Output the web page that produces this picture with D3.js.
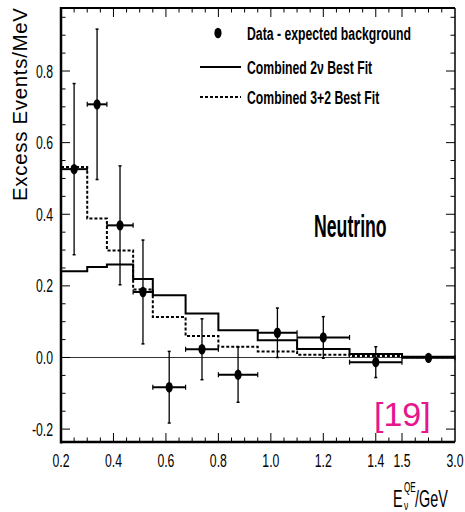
<!DOCTYPE html>
<html>
<head>
<meta charset="utf-8">
<script src="https://cdn.jsdelivr.net/npm/d3@7"></script>
<style>
  body { margin: 0; background: white; }
  text { font-family: "Liberation Sans", Arial, sans-serif; }
</style>
</head>
<body>
<script>
// bin edges in GeV (MiniBooNE binning)
const binEdges = [0.2, 0.3, 0.375, 0.475, 0.55, 0.675, 0.8, 0.95, 1.1, 1.3, 1.5, 3.0];
// data - expected background, and its error
const excess = [0.526, 0.707, 0.369, 0.183, -0.083, 0.023, -0.048, 0.069, 0.056, -0.013, -0.001];
const excessErr = [0.239, 0.21, 0.166, 0.145, 0.10, 0.085, 0.077, 0.069, 0.058, 0.043, 0.005];
// best-fit predictions
const fit2nu = [0.241, 0.253, 0.260, 0.219, 0.174, 0.123, 0.076, 0.048, 0.024, 0.010, 0.002];
const fit3p2 = [0.532, 0.388, 0.299, 0.190, 0.113, 0.060, 0.030, 0.017, 0.008, 0.004, 0.001];
// axis ticks
const xTickLabels = [0.2, 0.4, 0.6, 0.8, 1.0, 1.2, 1.4, 1.5, 3.0];
const xMinorTicks = d3.range(0.2, 1.501, 0.05).concat([1.875, 2.25, 2.625]);
const yTickLabels = [-0.2, 0.0, 0.2, 0.4, 0.6, 0.8];
const yMinorTicks = d3.range(-0.2, 0.951, 0.05);

const width = 465, height = 512;
const mLeft = 61, mRight = 455, mTop = 8, mBottom = 442;

const svg = d3.select("body").append("svg")
    .attr("width", width)
    .attr("height", height);

// x axis is linear up to 1.5 GeV and compressed above
const x = d3.scaleLinear().domain([0.2, 1.5, 3.0]).range([mLeft, 402, mRight]);
const y = d3.scaleLinear().domain([-0.236, 0.976]).range([mBottom, mTop]);

// squeeze text horizontally like the original (narrow font)
function squish(sel, k) {
  sel.each(function() {
    const w = this.getComputedTextLength();
    d3.select(this).attr("textLength", w * k).attr("lengthAdjust", "spacingAndGlyphs");
  });
}

// zero line
svg.append("line")
    .attr("x1", mLeft).attr("x2", mRight)
    .attr("y1", y(0)).attr("y2", y(0))
    .attr("stroke", "#333").attr("stroke-width", 1);

// histograms
const stepData = vals => vals.map((v, i) => [binEdges[i], v]).concat([[3.0, vals[vals.length - 1]]]);
const step = d3.line().x(d => x(d[0])).y(d => y(d[1])).curve(d3.curveStepAfter);

svg.append("path")
    .attr("d", step(stepData(fit2nu)))
    .attr("fill", "none").attr("stroke", "#000").attr("stroke-width", 2);

svg.append("path")
    .attr("d", step(stepData(fit3p2)))
    .attr("fill", "none").attr("stroke", "#000").attr("stroke-width", 2)
    .attr("stroke-dasharray", "3,2");

// data points with error bars
const pts = excess.map((v, i) => ({
  x0: binEdges[i], x1: binEdges[i + 1],
  xc: (binEdges[i] + binEdges[i + 1]) / 2,
  v: v, e: excessErr[i]
}));

const pg = svg.append("g").attr("stroke", "#000");
pg.selectAll(".xerr").data(pts).join("line")
    .attr("x1", d => x(d.x0)).attr("x2", d => x(d.x1))
    .attr("y1", d => y(d.v)).attr("y2", d => y(d.v))
    .attr("stroke-width", 2);
pg.selectAll(".xcap").data(pts.flatMap(d => [[d.x0, d.v], [d.x1, d.v]])).join("line")
    .attr("x1", d => x(d[0])).attr("x2", d => x(d[0]))
    .attr("y1", d => y(d[1]) - 2.5).attr("y2", d => y(d[1]) + 2.5)
    .attr("stroke-width", 1.2);
pg.selectAll(".yerr").data(pts).join("line")
    .attr("x1", d => x(d.xc)).attr("x2", d => x(d.xc))
    .attr("y1", d => y(d.v - d.e)).attr("y2", d => y(d.v + d.e))
    .attr("stroke-width", 1.3);
pg.selectAll(".ycap").data(pts.flatMap(d => [[d.xc, d.v - d.e], [d.xc, d.v + d.e]])).join("line")
    .attr("x1", d => x(d[0]) - 1.5).attr("x2", d => x(d[0]) + 1.5)
    .attr("y1", d => y(d[1])).attr("y2", d => y(d[1]))
    .attr("stroke-width", 1.5);
svg.append("g").selectAll("ellipse").data(pts).join("ellipse")
    .attr("cx", d => x(d.xc)).attr("cy", d => y(d.v))
    .attr("rx", 3.6).attr("ry", 5.2)
    .attr("fill", "#000");

// ticks (inside the frame, on all four sides)
const isMajorX = v => xTickLabels.some(t => Math.abs(t - v) < 1e-6);
const isMajorY = v => yTickLabels.some(t => Math.abs(t - v) < 1e-6);
const tk = svg.append("g").attr("stroke", "#000").attr("stroke-width", 1);
tk.selectAll(".xb").data(xMinorTicks).join("line")
    .attr("x1", d => x(d)).attr("x2", d => x(d))
    .attr("y1", mBottom).attr("y2", d => mBottom - (isMajorX(d) ? 9 : 4.5));
tk.selectAll(".xt").data(xMinorTicks).join("line")
    .attr("x1", d => x(d)).attr("x2", d => x(d))
    .attr("y1", mTop).attr("y2", d => mTop + (isMajorX(d) ? 9 : 4.5));
tk.selectAll(".yl").data(yMinorTicks).join("line")
    .attr("x1", mLeft).attr("x2", d => mLeft + (isMajorY(d) ? 9 : 4.5))
    .attr("y1", d => y(d)).attr("y2", d => y(d));
tk.selectAll(".yr").data(yMinorTicks).join("line")
    .attr("x1", mRight).attr("x2", d => mRight - (isMajorY(d) ? 9 : 4.5))
    .attr("y1", d => y(d)).attr("y2", d => y(d));

// frame
svg.append("line").attr("x1", mLeft).attr("x2", mRight).attr("y1", mTop).attr("y2", mTop)
    .attr("stroke", "#000").attr("stroke-width", 2);
svg.append("line").attr("x1", mRight).attr("x2", mRight).attr("y1", mTop).attr("y2", mBottom)
    .attr("stroke", "#000").attr("stroke-width", 1.5);
svg.append("line").attr("x1", mLeft).attr("x2", mLeft).attr("y1", mTop - 1).attr("y2", mBottom + 1.5)
    .attr("stroke", "#000").attr("stroke-width", 2.5);
svg.append("line").attr("x1", mLeft).attr("x2", mRight).attr("y1", mBottom).attr("y2", mBottom)
    .attr("stroke", "#000").attr("stroke-width", 2.5);

// tick labels
svg.append("g").selectAll("text").data(xTickLabels).join("text")
    .attr("x", d => x(d)).attr("y", 467)
    .attr("text-anchor", "middle")
    .attr("font-size", 18)
    .text(d => d.toFixed(1))
    .call(squish, 0.68);
svg.append("g").selectAll("text").data(yTickLabels).join("text")
    .attr("x", 53).attr("y", d => y(d) + 6.5)
    .attr("text-anchor", "end")
    .attr("font-size", 18)
    .text(d => d.toFixed(1))
    .call(squish, 0.68);

// y axis title
svg.append("text")
    .attr("transform", "translate(27,8) rotate(-90)")
    .attr("text-anchor", "end")
    .attr("font-size", 20.5)
    .attr("textLength", 193).attr("lengthAdjust", "spacing")
    .text("Excess Events/MeV");

// x axis title
svg.append("text").attr("x", 393).attr("y", 507).attr("font-size", 24).text("E").call(squish, 0.6);
svg.append("text").attr("x", 404).attr("y", 492).attr("font-size", 14).text("QE").call(squish, 0.58);
svg.append("text").attr("x", 404).attr("y", 510).attr("font-size", 13).text("ν").call(squish, 0.65);
svg.append("text").attr("x", 415).attr("y", 507).attr("font-size", 24).text("/GeV").call(squish, 0.6);

// legend
const legendLabels = ["Data - expected background", "Combined 2\u03bd Best Fit", "Combined 3+2 Best Fit"];
const legendY = [33, 67, 97];
svg.append("ellipse").attr("cx", 218).attr("cy", legendY[0]).attr("rx", 3.6).attr("ry", 5.2).attr("fill", "#000");
svg.append("line").attr("x1", 200).attr("x2", 241).attr("y1", legendY[1]).attr("y2", legendY[1])
    .attr("stroke", "#000").attr("stroke-width", 2);
svg.append("line").attr("x1", 200).attr("x2", 241).attr("y1", legendY[2]).attr("y2", legendY[2])
    .attr("stroke", "#000").attr("stroke-width", 2).attr("stroke-dasharray", "3,2");
svg.append("g").selectAll("text").data(legendLabels).join("text")
    .attr("x", 247).attr("y", (d, i) => legendY[i] + 7)
    .attr("font-size", 18).attr("font-weight", "bold")
    .text(d => d)
    .call(squish, 0.68);

// annotation
svg.append("text").attr("x", 314).attr("y", 237)
    .attr("font-size", 31).attr("font-weight", "bold")
    .text("Neutrino")
    .call(squish, 0.57);

svg.append("text").attr("x", 374).attr("y", 426)
    .attr("font-size", 34).attr("fill", "#e6168c")
    .text("[19]");
</script>
</body>
</html>
